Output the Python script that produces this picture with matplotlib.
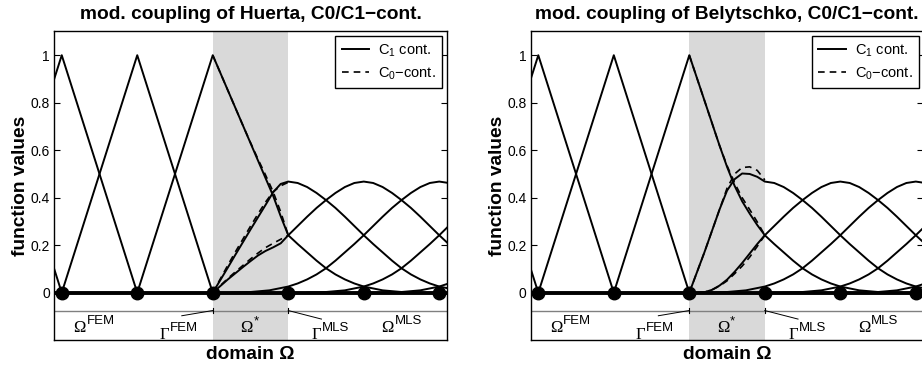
# Kopplung FEM / MLS: Formfunktionen im Uebergangsbereich (Huerta vs. Belytschko)

import numpy as np
import matplotlib.pyplot as plt

plt.rcParams['font.family'] = ['Liberation Sans', 'DejaVu Sans']
plt.rcParams['mathtext.fontset'] = 'custom'
plt.rcParams['mathtext.rm'] = 'Liberation Sans'
plt.rcParams['mathtext.sf'] = 'Liberation Sans'

# Knoten
nodes_x = [0, 1, 2, 3, 4, 5]
nodes_y = [0, 0, 0, 0, 0, 0]

# FEM-Hutfunktionen (Mitte, Werte an Mitte-1, Mitte, Mitte+1)
hat_centers = [-1, 0, 1]
hat_vals = [0.0, 1.0, 0.0]

# MLS-Formfunktion: Wert ueber Abstand zum Knoten
mls_dist = np.array([0, 0.125, 0.25, 0.375, 0.5, 0.625, 0.75, 0.875, 1.0, 1.125,
                     1.25, 1.375, 1.5, 1.625, 1.75, 1.875, 2.0, 2.25, 2.5, 2.75])
mls_val = np.array([0.468, 0.462, 0.445, 0.42, 0.39, 0.357, 0.32, 0.281, 0.242, 0.205,
                    0.17, 0.135, 0.103, 0.077, 0.056, 0.039, 0.026, 0.01, 0.003, 0.0])
mls_nodes = [2, 3, 4, 5, 6, 7]

# Uebergangsbereich Omega* = [2, 3]
x_star = [2.0, 2.1, 2.2, 2.3, 2.4, 2.5, 2.6, 2.7, 2.8, 2.9, 3.0]

# Huerta: Knoten 2 (FEM), Knoten 3, Knoten 4  -- C1 und C0
hu_a = [1.0, 0.926, 0.852, 0.778, 0.704, 0.630, 0.556, 0.482, 0.408, 0.322, 0.242]
hu_a_c0 = [1.0, 0.926, 0.852, 0.778, 0.704, 0.632, 0.562, 0.495, 0.425, 0.340, 0.242]
hu_b = [0.0, 0.053, 0.106, 0.160, 0.213, 0.266, 0.318, 0.370, 0.423, 0.458, 0.468]
hu_b_c0 = [0.0, 0.058, 0.116, 0.172, 0.226, 0.280, 0.332, 0.382, 0.425, 0.450, 0.465]
hu_c = [0.0, 0.028, 0.056, 0.082, 0.108, 0.133, 0.157, 0.176, 0.191, 0.208, 0.242]
hu_c_c0 = [0.0, 0.030, 0.060, 0.088, 0.115, 0.142, 0.167, 0.190, 0.208, 0.225, 0.242]

# Belytschko
be_a = [1.0, 0.905, 0.810, 0.715, 0.620, 0.530, 0.450, 0.385, 0.333, 0.285, 0.242]
be_a_c0 = [1.0, 0.905, 0.810, 0.715, 0.620, 0.535, 0.462, 0.400, 0.350, 0.298, 0.242]
be_b = [0.0, 0.085, 0.170, 0.260, 0.350, 0.430, 0.478, 0.502, 0.500, 0.488, 0.468]
be_b_c0 = [0.0, 0.085, 0.170, 0.260, 0.350, 0.440, 0.500, 0.527, 0.530, 0.515, 0.475]
be_c = [0.0, 0.0, 0.002, 0.012, 0.030, 0.055, 0.088, 0.125, 0.165, 0.205, 0.242]
be_c_c0 = [0.0, 0.0, 0.002, 0.012, 0.028, 0.050, 0.080, 0.112, 0.150, 0.195, 0.242]

# Beschriftung der Teilgebiete: Symbol, Hochzeichen, Position
dom_sym = ['Ω', 'Γ', 'Ω', 'Γ', 'Ω']
dom_sup = ['FEM', 'FEM', '*', 'MLS', 'MLS']
dom_x = [0.32, 1.42, 2.53, 3.44, 4.40]
dom_y = [-0.165, -0.196, -0.165, -0.196, -0.165]


def mls_curve(node):
    xs = node + np.concatenate([-mls_dist[::-1], mls_dist[1:]])
    ys = np.concatenate([mls_val[::-1], mls_val[1:]])
    return xs, ys


def panel(ax, title, a, a0, b, b0, c, c0):
    ax.axvspan(2, 3, color='#d9d9d9', lw=0, zorder=0)
    ax.axhline(0, color='k', lw=2.8, zorder=2)

    # FEM
    for xc in hat_centers:
        ax.plot([xc-1, xc, xc+1], hat_vals, 'k-', lw=1.4)

    # modifizierte Funktionen im Uebergangsbereich + MLS-Teil
    xst = np.array(x_star)
    for node, ys_star, ys_c0 in [(2, a, a0), (3, b, b0), (4, c, c0)]:
        xs, ys = mls_curve(node)
        k = xs > 3
        xx = np.concatenate([xst, xs[k]])
        yy = np.concatenate([ys_star, ys[k]])
        if node == 2:
            xx = np.concatenate([[1.0], xx])
            yy = np.concatenate([[0.0], yy])
        ln1, = ax.plot(xx, yy, 'k-', lw=1.4)
        ln0, = ax.plot(xst, ys_c0, 'k--', lw=1.2, dashes=(4, 3))
        if node == 2:
            h1, h0 = ln1, ln0
    for node in mls_nodes[3:]:
        xs, ys = mls_curve(node)
        k = xs >= 2
        ax.plot(xs[k], ys[k], 'k-', lw=1.4)

    ax.plot(nodes_x, nodes_y, 'o', color='k', ms=9, zorder=5)

    # Gebietsachse unten
    ax.axhline(-0.075, color='#808080', lw=1.0, zorder=1)
    for xb in [2, 3]:
        ax.plot([xb, xb], [-0.065, -0.085], color='k', lw=0.8)
    ax.plot([2, 1.59], [-0.075, -0.097], color='k', lw=0.7)
    ax.plot([3, 3.44], [-0.075, -0.111], color='k', lw=0.7)
    for sym, sup, xl, yl in zip(dom_sym, dom_sup, dom_x, dom_y):
        ax.text(xl, yl, sym, ha='right', va='baseline', fontsize=12,
                family='Liberation Serif')
        ax.text(xl + 0.01, yl + 0.033, sup, ha='left', va='baseline', fontsize=9.5)

    ax.set_xlim(-0.1, 5.1)
    ax.set_ylim(-0.2, 1.1)
    ax.set_xticks([])
    ax.set_yticks([0, 0.2, 0.4, 0.6, 0.8, 1])
    ax.set_yticklabels(['0', '0.2', '0.4', '0.6', '0.8', '1'])
    ax.tick_params(axis='y', direction='in', right=True, length=4, width=0.8,
                   labelsize=10, pad=3)
    for sp in ax.spines.values():
        sp.set_linewidth(1.0)
    ax.set_title(title, fontsize=13.8, fontweight='bold', pad=9)
    ax.set_xlabel('domain Ω', fontsize=13.8, fontweight='bold', labelpad=4)
    ax.set_ylabel('function values', fontsize=13.8, fontweight='bold', labelpad=1)
    ax.legend([h1, h0], [r'C$_\mathsf{1}$ cont.', r'C$_\mathsf{0}$−cont.'],
              loc='upper right', fontsize=10.5, frameon=True, fancybox=False,
              edgecolor='k', framealpha=1, borderaxespad=0.3, borderpad=0.45,
              handlelength=1.9, handletextpad=0.6, labelspacing=0.4)


fig = plt.figure(figsize=(9.22, 3.68), dpi=100)
ax1 = fig.add_axes([54.2/922, 0.0755, 392.6/922, 0.839])
ax2 = fig.add_axes([530.75/922, 0.0755, 392.6/922, 0.839])

panel(ax1, 'mod. coupling of Huerta, C0/C1−cont.', hu_a, hu_a_c0, hu_b, hu_b_c0, hu_c, hu_c_c0)
panel(ax2, 'mod. coupling of Belytschko, C0/C1−cont.', be_a, be_a_c0, be_b, be_b_c0, be_c, be_c_c0)

fig.savefig('out.png', dpi=100)
